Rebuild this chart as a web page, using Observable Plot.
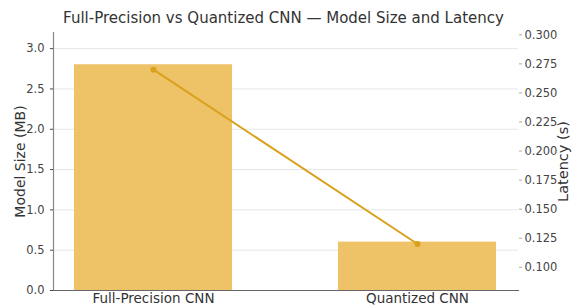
<!DOCTYPE html>
<html>
<head>
<meta charset="utf-8">
<script src="https://cdn.jsdelivr.net/npm/d3@7"></script>
<script src="https://cdn.jsdelivr.net/npm/@observablehq/plot@0.6"></script>
<style>
  html, body { margin: 0; padding: 0; background: #fff; }
  #title { width: 575px; height: 28px; text-align: center; font: 15px "DejaVu Sans", sans-serif; color: #333; box-sizing: border-box; position: relative; }
  #title span { position: absolute; left: 0; right: 8px; top: 9px; }
</style>
</head>
<body>
<div id="title"><span>Full-Precision vs Quantized CNN — Model Size and Latency</span></div>
<div id="chart"></div>
<script>
const models = ["Full-Precision CNN", "Quantized CNN"];
const sizeMB = [2.8, 0.6];
const latencyS = [0.27, 0.12];
const sizeTicks = [0, 0.5, 1.0, 1.5, 2.0, 2.5, 3.0];
const latencyTicks = [0.100, 0.125, 0.150, 0.175, 0.200, 0.225, 0.250, 0.275, 0.300];

const sizeDomain = [0, 3.2];
const latDomain = [0.08, 0.302];
const lat2size = d3.scaleLinear().domain(latDomain).range(sizeDomain);

const data = models.map((m, i) => ({model: m, size: sizeMB[i], lat: latencyS[i], latY: lat2size(latencyS[i])}));

const W = 575, H = 279;
const plot = Plot.plot({
  width: W,
  height: H,
  marginLeft: 53,
  marginRight: 57,
  marginTop: 4,
  marginBottom: 17,
  style: {fontFamily: "DejaVu Sans, sans-serif", fontSize: "11.5px", color: "#444", background: "#fff", overflow: "visible"},
  x: {domain: models, paddingInner: 0.4, paddingOuter: 0.08, label: null},
  y: {domain: sizeDomain, label: null},
  marks: [
    Plot.ruleY(sizeTicks, {stroke: "#e6e6e6", strokeWidth: 1}),
    Plot.barY(data, {x: "model", y: "size", fill: "#EDBF5E", fillOpacity: 0.95}),
    Plot.line(data, {x: "model", y: "latY", stroke: "#D9A11C", strokeWidth: 2}),
    Plot.dot(data, {x: "model", y: "latY", fill: "#D9A11C", r: 3}),
    Plot.axisY({anchor: "left", ticks: sizeTicks, tickFormat: d3.format(".1f"), tickSize: 3, label: null, fill: "#444"}),
    Plot.axisY(latencyTicks.map(v => lat2size(v)), {anchor: "right", tickFormat: (d, i) => d3.format(".3f")(latencyTicks[i]), tickSize: 3, tickPadding: 3, label: null, fill: "#444", stroke: "#aaa"}),
    Plot.axisX({tickSize: 0, tickPadding: 3, label: null, fill: "#333", fontSize: 13.5}),
    Plot.frame({anchor: "left", stroke: "#888", strokeWidth: 1.2}),
    Plot.frame({anchor: "bottom", stroke: "#666", strokeWidth: 1.2}),
    Plot.text(["Model Size (MB)"], {frameAnchor: "left", textAnchor: "middle", dx: -33, rotate: -90, fontSize: 14, fill: "#333"}),
    Plot.text(["Latency (s)"], {frameAnchor: "right", textAnchor: "middle", dx: 45, rotate: -90, fontSize: 14.5, fill: "#333"})
  ]
});
document.getElementById("chart").appendChild(plot);
</script>
</body>
</html>
